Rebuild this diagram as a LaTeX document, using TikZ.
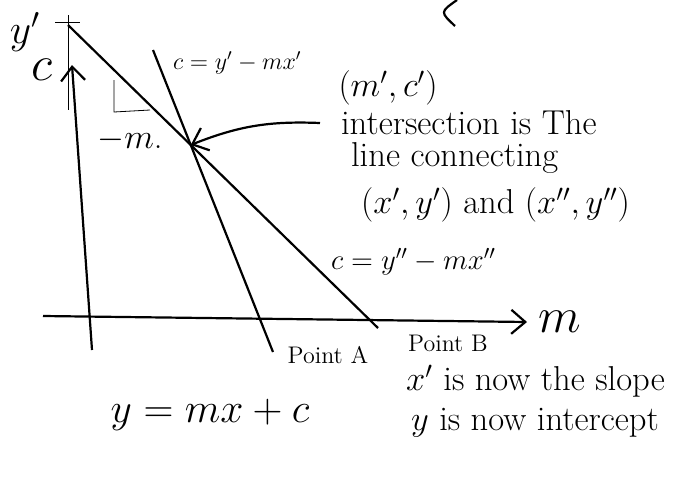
\documentclass[tikz,border=0pt]{standalone}
\usepackage{amsmath}
\usepackage{tikz}
\usetikzlibrary{arrows.meta,calc,positioning}

\begin{document}
\begin{tikzpicture}[x=0.5pt, y=-0.5pt, line width=1.1pt,
    barb/.style={-{Straight Barb[length=7pt,width=12pt,line width=1.1pt]}},
    hand/.style={inner sep=0pt, font=\LARGE},
    small/.style={inner sep=0pt, font=\large}]
            \useasboundingbox (0,0) rectangle (698,478);

            % Axis ends and the two lines (C-lines)
            \coordinate (mL) at (43,316);
            \coordinate (mR) at (527,322);
            \coordinate (cB) at (92,350);
            \coordinate (cT) at (72,65);
            \coordinate (A1) at (153,50);
            \coordinate (A2) at (273,352);
            \coordinate (B1) at (68,25);
            \coordinate (B2) at (378,328);
            \coordinate (P) at (intersection of A1--A2 and B1--B2);

            % Axes
            \draw[barb] (mL) -- (mR);
            \draw[barb] (cB) -- (cT);
            \draw[thin] (55,22) -- (80,22); % y' mark
            \draw[thin] (68,15) -- (68,110);

            % Lines
            \draw (A1) -- (A2);
            \draw (B1) -- (B2);

            % Slope marker
            \draw[thin] (114,80) -- (114,112) -- (150,110);

            % Labels
            \node[hand, font=\huge] (ylab) at (25,32) {$y'$};
            \node[hand, font=\Huge] (clab) at (42,70) {$c$};
            \node[hand, font=\Huge] (mlab) at (560,322) {$m$};
            \node[hand] (slab) at (130,140) {$-m$.};
            \node[small, anchor=west] (eqA) at (172,63) {$c=y'-mx'$};
            \node[small, font=\Large, anchor=west] (eqB) at (330,262) {$c=y''-mx''$};
            \node[hand] (mc) at (388,88) {$(m',c')$};
            \node[hand, anchor=west] (txtA) at (340,123) {intersection is The};
            \node[hand, anchor=west] (txtB) at (350,158) {line connecting};
            \node[hand, anchor=west] (txtC) at (360,205) {$(x',y')$ and $(x'',y'')$};
            \node[small] (ptA) at (328,355) {Point A};
            \node[small] (ptB) at (448,343) {Point B};
            \node[hand, font=\huge] (eqC) at (210,415) {$y=mx+c$};
            \node[hand, anchor=west] (txtD) at (405,381) {$x'$ is now the slope};
            \node[hand, anchor=west] (txtE) at (410,423) {$y$ is now intercept};

            % Arrow to the intersection
            \draw[barb] ([xshift=-10pt]txtA.west) to[bend right=12] (P);

            % Cut-off mark at the top
            \draw (457,0) .. controls (440,12) .. (455,26);
        \end{tikzpicture}
\end{document}
